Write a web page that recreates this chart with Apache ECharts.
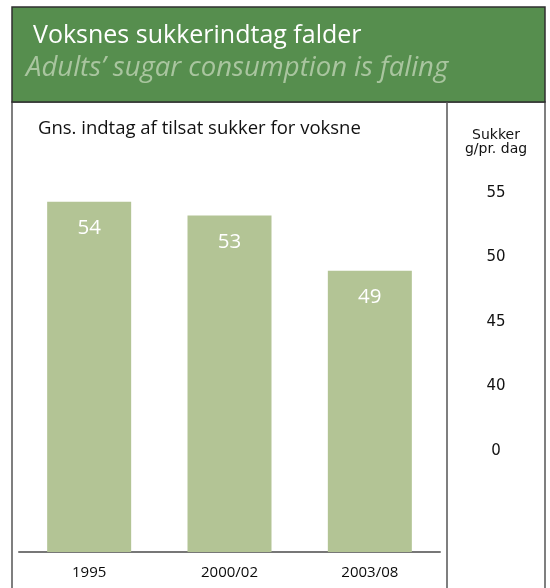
<!DOCTYPE html>
<html>
<head>
<meta charset="utf-8">
<script src="https://cdn.jsdelivr.net/npm/echarts@6/dist/echarts.min.js"></script>
<style>
html,body{margin:0;padding:0;background:#fff;}
#c{width:550px;height:588px;}
</style>
</head>
<body>
<div id="c"></div>
<script>
const categories = ['1995', '2000/02', '2003/08'];
const sugarValues = [54, 53, 49];
const rightTickLabels = ['0', '40', '45', '50', '55'];
const titleText = 'Voksnes sukkerindtag falder';
const subtitleText = 'Adults\u2019 sugar consumption is faling';
const chartLabel = 'Gns. indtag af tilsat sukker for voksne';
const axisName = 'Sukker\ng/pr. dag';

const FONT = 'Open Sans';
const chart = echarts.init(document.getElementById('c'), null, {renderer: 'canvas'});

chart.setOption({
  animation: false,
  backgroundColor: '#ffffff',
  title: [
    {text: titleText, left: 33, top: 23, padding: 0,
     textStyle: {color: '#ffffff', fontSize: 25, fontWeight: 'normal', fontFamily: FONT, lineHeight: 26}},
    {text: subtitleText, left: 26, top: 54, padding: 0,
     textStyle: {color: '#a9c59f', fontSize: 27.5, fontStyle: 'italic', fontWeight: 'normal', fontFamily: FONT, lineHeight: 28}},
    {text: chartLabel, left: 38, top: 119, padding: 0,
     textStyle: {color: '#111111', fontSize: 18.5, fontWeight: 'normal', fontFamily: FONT, lineHeight: 19}}
  ],
  graphic: [
    {type: 'rect', z: -1, shape: {x: 12, y: 102, width: 533, height: 500},
     style: {fill: '#ffffff', stroke: '#555555', lineWidth: 1.5}},
    {type: 'rect', z: -1, shape: {x: 12, y: 7, width: 533, height: 95},
     style: {fill: '#568e4e', stroke: '#2f2f2f', lineWidth: 1.5}},
    {type: 'line', z: -1, shape: {x1: 447, y1: 102, x2: 447, y2: 600},
     style: {stroke: '#555555', lineWidth: 1.5}}
  ],
  grid: [
    {left: 19, right: 110, top: 119, bottom: 36},
    {left: 496, width: 1, top: 193, bottom: 137}
  ],
  xAxis: [
    {type: 'category', gridIndex: 0, data: categories,
     axisLine: {show: true, lineStyle: {color: '#777777', width: 2}},
     axisTick: {show: false},
     axisLabel: {color: '#0a0a0a', fontSize: 15, fontFamily: FONT, margin: 13}},
    {type: 'value', gridIndex: 1, show: false}
  ],
  yAxis: [
    {type: 'value', gridIndex: 0, min: 28.6, max: 60, show: false},
    {type: 'category', gridIndex: 1, data: rightTickLabels, boundaryGap: false,
     position: 'left',
     axisLine: {show: false}, axisTick: {show: false}, splitLine: {show: false},
     axisLabel: {color: '#111111', fontSize: 15, fontFamily: 'DejaVu Sans', margin: 0, align: 'center'},
     name: axisName, nameLocation: 'end', nameGap: 37,
     nameTextStyle: {color: '#111111', fontSize: 14, fontFamily: 'DejaVu Sans', align: 'center', verticalAlign: 'bottom', lineHeight: 14}}
  ],
  series: [
    {type: 'bar', xAxisIndex: 0, yAxisIndex: 0, data: sugarValues, barWidth: 84,
     itemStyle: {color: '#b3c495'},
     label: {show: true, position: 'insideTop', distance: 16, color: '#ffffff', fontSize: 20.5, fontFamily: FONT}}
  ]
});
</script>
</body>
</html>
